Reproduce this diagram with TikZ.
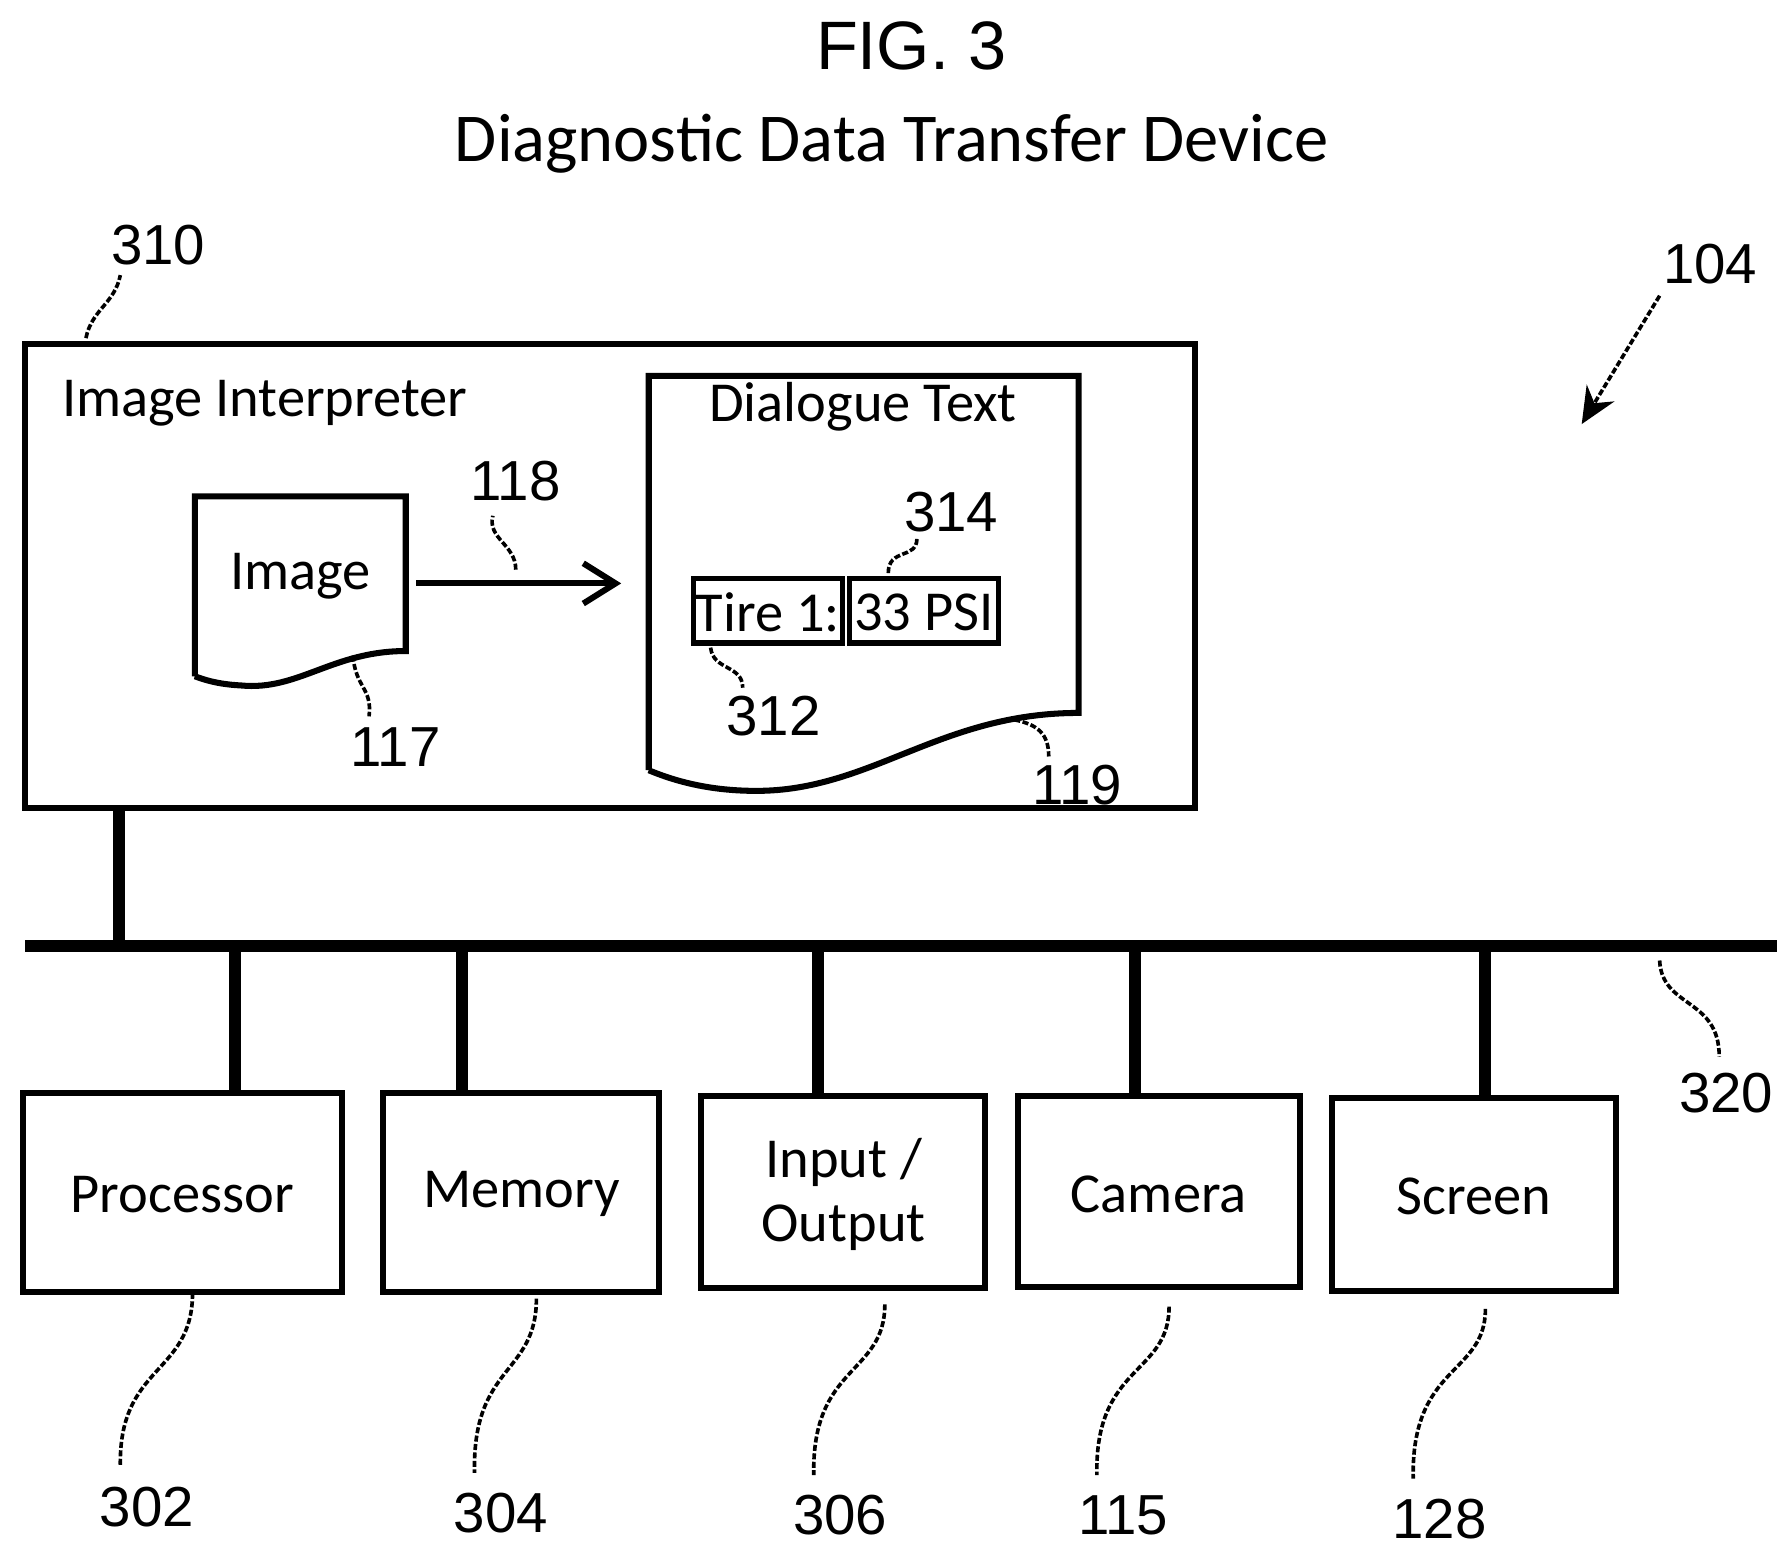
\documentclass[tikz,border=0pt]{standalone}
\usepackage{fontspec}
\setmainfont{Carlito}
\newfontfamily\numfont{Liberation Sans}
\usetikzlibrary{arrows.meta}
\begin{document}
\begin{tikzpicture}[x=0.01cm,y=-0.01cm,
  box/.style={draw,line width=1.5pt},
  txt/.style={font=\fontsize{14}{16}\selectfont},
  num/.style={font=\numfont\fontsize{14}{16}\selectfont},
  lead/.style={line width=0.9pt,dash pattern=on 1.5pt off 0.6pt},
  bus/.style={line width=3pt}]
\useasboundingbox (0,0) rectangle (1560,1356);
\node[font=\numfont\fontsize{17}{19}\selectfont] (fig) at (795,40) {FIG. 3};
\node[font=\fontsize{17}{19}\selectfont] (title) at (778,125) {Diagnostic Data Transfer Device};
% main box
\draw[box] (22,300) rectangle (1043,705);
\node[txt] (ii) at (231,352) {Image Interpreter};
% image doc
\draw[box] (170,590) -- (170,433) -- (354,433) -- (354,568) .. controls (290,568) and (260,603) .. (210,598) .. controls (190,597) and (178,593) .. (170,590);
\node[txt] (img) at (262,503) {Image};
\coordinate (as) at (363,509); \coordinate (ae) at (542,509);
\draw[line width=1.5pt,-{Straight Barb[length=8pt,width=10pt]}] (as) -- (ae);
% dialogue doc
\draw[box] (566,672) -- (566,328) -- (941,328) -- (941,622) .. controls (820,622) and (760,690) .. (660,690) .. controls (620,690) and (590,682) .. (566,672);
\node[txt] (dt) at (753,355) {Dialogue Text};
\draw[line width=1.3pt] (605,505) rectangle (735,561);
\draw[line width=1.3pt] (741,505) rectangle (871,561);
\node[txt] (t1) at (670,534) {Tire 1:};
\node[txt] (psi) at (806,534) {33 PSI};
% labels
\node[num] (l310) at (138,214) {310};
\draw[lead] (75,295) .. controls (80,270) and (100,265) .. (105,240);
\node[num] (l104) at (1492,230) {104};
\draw[lead,-{Stealth[length=9pt,width=8pt]}] (1448,258) -- (1380,370);
\node[num] (l118) at (450,420) {118};
\draw[lead] (450,497) .. controls (450,475) and (425,470) .. (430,450);
\node[num] (l117) at (345,652) {117};
\draw[lead] (308,572) .. controls (310,600) and (325,600) .. (322,625);
\node[num] (l312) at (675,625) {312};
\draw[lead] (620,565) .. controls (622,585) and (648,580) .. (648,600);
\node[num] (l314) at (830,447) {314};
\draw[lead] (775,500) .. controls (775,478) and (800,488) .. (800,470);
\node[num] (l119) at (940,685) {119};
\draw[lead] (885,628) .. controls (905,632) and (915,640) .. (915,660);
% bus
\draw[bus] (22,825) -- (1550,825);
\draw[bus] (104,705) -- (104,825);
\node[num] (l320) at (1506,954) {320};
\draw[lead] (1448,838) .. controls (1450,880) and (1500,870) .. (1500,922);
% boxes
\draw[box] (20,954) rectangle (298,1127); \node[txt] (p) at (159,1042) {Processor};
\draw[box] (334,954) rectangle (575,1127); \node[txt] (m) at (455,1042) {Memory};
\draw[box] (612,956) rectangle (859,1124); \node[txt,align=center] (io) at (736,1042) {Input /\\Output};
\draw[box] (888,956) rectangle (1134,1123); \node[txt] (c) at (1011,1042) {Camera};
\draw[box] (1162,958) rectangle (1410,1126); \node[txt] (s) at (1286,1044) {Screen};
\foreach \x/\y in {205/954,403/954,714/956,990/956,1296/958} \draw[bus] (\x,825) -- (\x,\y);
% bottom labels
\foreach \a/\b/\t/\lx/\ly in {168/1128/302/128/1315, 468/1133/304/437/1320, 772/1138/306/733/1322, 1020/1140/115/980/1322, 1296/1142/128/1256/1325}{
  \node[num] at (\lx,\ly) {\t};
  \draw[lead] (\a,\b) .. controls (\a,1200) and (\lx-25,1190) .. (\lx-23,\ly-35);
}
\end{tikzpicture}
\end{document}
